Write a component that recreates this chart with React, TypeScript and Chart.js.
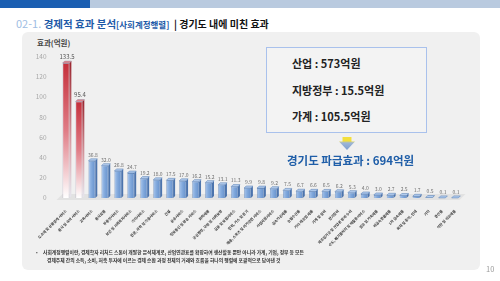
import React, { useEffect, useRef } from "react";
import { Chart, registerables } from "chart.js";

Chart.register(...registerables);

const KR = '"Noto Sans CJK KR", "Noto Sans", sans-serif';

const categories: string[] = [
  "도소매 및 상품중개 서비스",
  "음식 및 숙박 서비스",
  "교육서비스",
  "음식료품",
  "부동산서비스",
  "보건 및 사회복지서비스",
  "기타서비스",
  "전문, 과학 및 기술서비스",
  "건설",
  "운송서비스",
  "정보통신 및 방송 서비스",
  "화학제품",
  "공공행정, 국방 및 사회보장",
  "금융 및 보험서비스",
  "전력, 가스 및 증기",
  "예술, 스포츠 및 여가관련 서비스",
  "사업지원서비스",
  "금속가공제품",
  "농림수산품",
  "기타 제조업 제품",
  "기계 및 장비",
  "전기장비",
  "제조임가공 및 산업용 장비 수리",
  "수도, 폐기물처리 및 재활용서비스",
  "섬유 및 가죽제품",
  "비금속광물제품",
  "1차 금속제품",
  "목재 및 종이, 인쇄",
  "기타",
  "광산품",
  "석탄 및 석유제품",
];

const values: number[] = [
  133.5, 95.4, 36.8, 32.0, 26.8, 24.7, 19.2, 18.0, 17.5, 17.0, 16.2, 15.2,
  13.1, 11.3, 9.9, 9.8, 9.2, 7.5, 6.7, 6.6, 6.5, 6.2, 5.3, 4.0, 3.0, 2.7,
  2.5, 1.7, 0.5, 0.1, 0.1,
];

const highlightCount = 2;
const yMin = 0;
const yMax = 140;
const yStep = 20;

const summaryLines: string[] = ["산업 : 573억원", "지방정부 : 15.5억원", "가계 : 105.5억원"];
const totalText = "경기도 파급효과 : 694억원";
const noteLines: string[] = [
  "사회계정행렬이란, 경제학자 리처드 스톤이 개발한 분석체계로, 산업연관표를 확장하여 생산활동 뿐만 아니라 가계, 기업, 정부 등 모든",
  "경제주체 간의 소득, 소비, 저축 투자에 이르는 경제 순환 과정 전체의 거래와 흐름을 하나의 행렬에 포괄적으로 담아낸 것",
];

const bar3d = {
  id: "bar3d",
  beforeDatasetsDraw(chart: any) {
    const { ctx, chartArea } = chart;
    const b = chartArea.bottom;
    ctx.save();
    ctx.fillStyle = "#e2e2e2";
    ctx.beginPath();
    ctx.moveTo(chartArea.left - 3, b + 2);
    ctx.lineTo(chartArea.left + 3, b - 4);
    ctx.lineTo(chartArea.right + 4, b - 4);
    ctx.lineTo(chartArea.right - 2, b + 2);
    ctx.closePath();
    ctx.fill();
    ctx.restore();
  },
  afterDatasetsDraw(chart: any) {
    const { ctx } = chart;
    const meta = chart.getDatasetMeta(0);
    const d = 2;
    ctx.save();
    meta.data.forEach((el: any, i: number) => {
      const p = el.getProps(["x", "y", "base", "width"], true);
      const l = p.x - p.width / 2;
      const r = p.x + p.width / 2;
      const red = i < highlightCount;
      if (red) {
        const g = ctx.createLinearGradient(0, p.y, 0, p.base);
        g.addColorStop(0, "#9c2731");
        g.addColorStop(0.6, "#d9a3a9");
        g.addColorStop(1, "#e6e6ee");
        ctx.fillStyle = g;
      } else {
        ctx.fillStyle = "#4c74ad";
      }
      ctx.beginPath();
      ctx.moveTo(r, p.y);
      ctx.lineTo(r + d, p.y - d);
      ctx.lineTo(r + d, p.base - d);
      ctx.lineTo(r, p.base);
      ctx.closePath();
      ctx.fill();
      ctx.fillStyle = red ? "#e5848d" : "#b4cdee";
      ctx.beginPath();
      ctx.moveTo(l, p.y);
      ctx.lineTo(l + d, p.y - d);
      ctx.lineTo(r + d, p.y - d);
      ctx.lineTo(r, p.y);
      ctx.closePath();
      ctx.fill();
      ctx.strokeStyle = red ? "#8f8aa3" : "#4f78b0";
      ctx.lineWidth = 0.5;
      ctx.stroke();
      ctx.fillStyle = red ? "#555" : "#6f6f6f";
      ctx.font = `${red ? 6 : 5}px ${KR}`;
      ctx.textAlign = "center";
      ctx.textBaseline = "bottom";
      ctx.fillText(values[i].toFixed(1), p.x + 1, p.y - d - 1.5);
    });
    ctx.restore();
  },
};

function BarChart() {
  const ref = useRef<HTMLCanvasElement | null>(null);
  useEffect(() => {
    if (!ref.current) return;
    const chart = new Chart(ref.current, {
      type: "bar",
      data: {
        labels: categories,
        datasets: [
          {
            data: values,
            barPercentage: 0.52,
            categoryPercentage: 1,
            borderWidth: 0.6,
            borderColor: (c: any) => (c.dataIndex < highlightCount ? "#9a90a8" : "#4f78b0"),
            backgroundColor: (c: any) => {
              const ch = c.chart;
              const ctx = ch.ctx;
              if (!ch.chartArea || !ch.scales.x) return "#7aa3d8";
              const i = c.dataIndex;
              if (i < highlightCount) {
                const top = ch.scales.y.getPixelForValue(values[i]);
                const g = ctx.createLinearGradient(0, top, 0, ch.chartArea.bottom);
                g.addColorStop(0, "#c52f3b");
                g.addColorStop(0.5, "#e07c86");
                g.addColorStop(1, "#ffffff");
                return g;
              }
              const x = ch.scales.x.getPixelForValue(i);
              const g = ctx.createLinearGradient(x - 3.5, 0, x + 3.5, 0);
              g.addColorStop(0, "#a8c5ec");
              g.addColorStop(0.5, "#7fa7db");
              g.addColorStop(1, "#6690cb");
              return g;
            },
          } as any,
        ],
      },
      options: {
        animation: false,
        responsive: false,
        maintainAspectRatio: false,
        layout: { padding: { top: 16.5, right: 6.5, left: 0, bottom: 0 } },
        plugins: { legend: { display: false }, tooltip: { enabled: false } },
        scales: {
          x: {
            grid: { display: false },
            border: { display: false },
            ticks: {
              autoSkip: false,
              maxRotation: 45,
              minRotation: 45,
              padding: 3,
              color: "#333",
              font: { size: 3.6, family: KR, weight: "bold" },
            },
            afterFit: (s: any) => {
              s.height = 52;
              s.paddingLeft = 0;
              s.paddingRight = 0;
            },
          } as any,
          y: {
            min: yMin,
            max: yMax,
            grid: { display: false },
            border: { display: false },
            ticks: {
              stepSize: yStep,
              padding: 5,
              color: "#a8a8a8",
              font: { size: 6.5, family: KR },
            },
            afterFit: (s: any) => {
              s.width = 31.5;
            },
          } as any,
        },
      },
      plugins: [bar3d],
    });
    return () => chart.destroy();
  }, []);
  return (
    <canvas
      ref={ref}
      width={440}
      height={210}
      style={{ position: "absolute", left: 28, top: 40, width: 440, height: 210 }}
    />
  );
}

export default function App() {
  const abs = (s: React.CSSProperties): React.CSSProperties => ({ position: "absolute", ...s });
  return (
    <div
      style={abs({
        left: 0,
        top: 0,
        width: 500,
        height: 281,
        overflow: "hidden",
        background: "#ffffff",
        fontFamily: KR,
      })}
    >
      <div style={abs({ left: 0, top: 0, width: 90, height: 8, background: "#1b5fb2" })} />
      <div style={abs({ left: 90, top: 0, width: 410, height: 8, background: "#b9cadf" })} />
      <div style={abs({ left: 16, top: 13, height: 16, whiteSpace: "nowrap", lineHeight: "16px" })}>
        <span style={{ color: "#9fbde3", fontSize: 11 }}>02-1. </span>
        <span style={{ color: "#1d5aa8", fontSize: 10.5, fontWeight: 700 }}>경제적 효과 분석</span>
        <span style={{ color: "#1d5aa8", fontSize: 8.5, fontWeight: 700 }}>[사회계정행렬]</span>
        <span style={{ color: "#111", fontSize: 10, fontWeight: 700 }}> &nbsp;| 경기도 내에 미친 효과</span>
      </div>
      <div style={abs({ left: 22, top: 32, width: 458, height: 238, background: "#f0f0f0", borderRadius: 6 })} />
      <div
        style={abs({
          left: 37,
          top: 38,
          fontSize: 7.5,
          fontWeight: 700,
          color: "#444",
          whiteSpace: "nowrap",
          lineHeight: "10px",
        })}
      >
        효과(억원)
      </div>
      <BarChart />
      <div
        style={abs({
          left: 266,
          top: 47,
          width: 159,
          height: 84,
          border: "1px solid #a9c1ec",
          background: "#f3f3f3",
        })}
      />
      {summaryLines.map((t, i) => (
        <div
          key={t}
          style={abs({
            left: 292,
            top: 56 + i * 26.5,
            fontSize: 11,
            fontWeight: 700,
            color: "#222",
            whiteSpace: "nowrap",
            lineHeight: "14px",
          })}
        >
          {t}
        </div>
      ))}
      <div
        style={abs({
          left: 339,
          top: 137,
          width: 16,
          height: 13,
          background: "linear-gradient(#f3df3c 0%, #f3df3c 30%, #9db6d8 45%, #7e9fcf 100%)",
          clipPath: "polygon(22% 0, 78% 0, 78% 35%, 100% 35%, 50% 100%, 0 35%, 22% 35%)",
        })}
      />
      <div
        style={abs({
          left: 287,
          top: 152,
          fontSize: 11.5,
          fontWeight: 700,
          color: "#1f5ea8",
          whiteSpace: "nowrap",
          lineHeight: "16px",
        })}
      >
        {totalText}
      </div>
      <div style={abs({ left: 36, top: 248, fontSize: 5, color: "#333", lineHeight: "8px" })}>•</div>
      {noteLines.map((t, i) => (
        <div
          key={i}
          style={abs({
            left: i === 0 ? 43 : 47,
            top: 247.5 + i * 8.5,
            fontSize: 4.8,
            fontWeight: 700,
            color: "#333",
            whiteSpace: "nowrap",
            lineHeight: "8px",
          })}
        >
          {t}
        </div>
      ))}
      <div style={abs({ left: 486, top: 264, fontSize: 7.5, color: "#999", lineHeight: "10px" })}>10</div>
    </div>
  );
}
